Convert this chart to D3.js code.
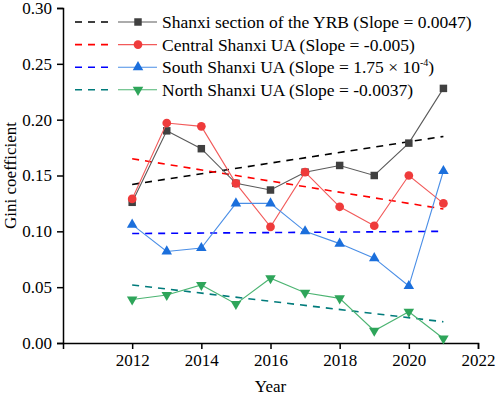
<!DOCTYPE html>
<html>
<head>
<meta charset="utf-8">
<script src="https://cdn.jsdelivr.net/npm/d3@7"></script>
<style>
  body { margin: 0; background: #fff; }
  svg text { font-family: "Liberation Serif", "Times New Roman", serif; fill: #000; }
  .axis path, .axis line { stroke: #000; stroke-width: 1.5; }
  .axis text { font-size: 17px; font-family: "Liberation Serif", serif; }
</style>
</head>
<body>
<svg id="chart" width="498" height="398" font-family="Liberation Serif, serif"></svg>
<script>
const years = [2012, 2013, 2014, 2015, 2016, 2017, 2018, 2019, 2020, 2021]
const shanxiYRB = [0.126, 0.190, 0.174, 0.143, 0.137, 0.153, 0.159, 0.150, 0.179, 0.228]
const centralUA = [0.129, 0.197, 0.194, 0.143, 0.104, 0.153, 0.122, 0.105, 0.150, 0.125]
const southUA = [0.106, 0.082, 0.085, 0.125, 0.125, 0.100, 0.089, 0.076, 0.051, 0.154]
const northUA = [0.039, 0.043, 0.052, 0.035, 0.058, 0.045, 0.040, 0.011, 0.028, 0.004]
// fitted trend lines, start and end (2012, 2021)
const trendYRB = [0.142, 0.185]
const trendCentral = [0.165, 0.120]
const trendSouth = [0.098, 0.100]
const trendNorth = [0.052, 0.019]
const xTicks = [2012, 2014, 2016, 2018, 2020, 2022]
const yTicks = [0, 0.05, 0.10, 0.15, 0.20, 0.25, 0.30]
const legendLabels = [
  "Shanxi section of the YRB (Slope = 0.0047)",
  "Central Shanxi UA (Slope = -0.005)",
  "South Shanxi UA (Slope = 1.75 × 10",
  "North Shanxi UA (Slope = -0.0037)"
]

const series = [
  {name: legendLabels[0], values: shanxiYRB, trend: trendYRB, color: "#5a5a5a", marker: "#404040", trendColor: "#000000", shape: "square"},
  {name: legendLabels[1], values: centralUA, trend: trendCentral, color: "#f25a5a", marker: "#ef3b3b", trendColor: "#ff0000", shape: "circle"},
  {name: legendLabels[2], values: southUA, trend: trendSouth, color: "#4a8ee6", marker: "#1b6fdc", trendColor: "#0000ff", shape: "up"},
  {name: legendLabels[3], values: northUA, trend: trendNorth, color: "#4cb472", marker: "#2ea55a", trendColor: "#007b7b", shape: "down"}
]

const svg = d3.select("#chart")
const m = {left: 63, right: 478, top: 8, bottom: 343}

const x = d3.scaleLinear().domain([2010, 2022]).range([m.left, m.right])
const y = d3.scaleLinear().domain([0, 0.30]).range([m.bottom, m.top])

// axes
svg.append("g").attr("class", "axis")
  .attr("transform", `translate(0,${m.bottom})`)
  .call(d3.axisBottom(x).tickValues(xTicks).tickFormat(d3.format("d")).tickSizeOuter(0).tickSize(6).tickPadding(5))
  .attr("font-family", null)
svg.append("g").attr("class", "axis")
  .attr("transform", `translate(${m.left},0)`)
  .call(d3.axisLeft(y).tickValues(yTicks).tickFormat(d3.format(".2f")).tickSizeOuter(0).tickSize(6).tickPadding(5))
  .attr("font-family", null)

const shapes = {
  square: d3.symbol().type(d3.symbolSquare).size(56),
  circle: d3.symbol().type(d3.symbolCircle).size(60),
  up: d3.symbol().type(d3.symbolTriangle).size(48),
  down: d3.symbol().type(d3.symbolTriangle).size(48)
}

const line = d3.line().x((d, i) => x(years[i])).y(d => y(d))

series.forEach(s => {
  // trend line
  svg.append("line")
    .attr("x1", x(years[0])).attr("x2", x(years[years.length - 1]))
    .attr("y1", y(s.trend[0])).attr("y2", y(s.trend[1]))
    .attr("stroke", s.trendColor).attr("stroke-width", 1.6)
    .attr("stroke-dasharray", "7,6")
})

series.forEach(s => {
  svg.append("path")
    .datum(s.values)
    .attr("d", line)
    .attr("fill", "none")
    .attr("stroke", s.color)
    .attr("stroke-width", 1.1)
  svg.selectAll(null)
    .data(s.values)
    .join("path")
    .attr("d", shapes[s.shape])
    .attr("transform", (d, i) => `translate(${x(years[i])},${y(d)})${s.shape === "down" ? " rotate(180)" : ""}`)
    .attr("fill", s.marker)
})

// legend
const legend = svg.append("g").attr("transform", "translate(75,22)")
const rows = legend.selectAll("g").data(series).join("g")
  .attr("transform", (d, i) => `translate(0,${i * 22.6})`)
rows.append("line").attr("x1", 0).attr("x2", 33)
  .attr("stroke", d => d.trendColor).attr("stroke-width", 1.6).attr("stroke-dasharray", "7,6")
rows.append("line").attr("x1", 43).attr("x2", 82)
  .attr("stroke", d => d.color).attr("stroke-width", 1.1)
rows.append("path")
  .attr("d", d => shapes[d.shape](d))
  .attr("transform", d => `translate(63,0)${d.shape === "down" ? " rotate(180)" : ""}`)
  .attr("fill", d => d.marker)
const labels = rows.append("text").attr("x", 87).attr("y", 6).attr("font-size", 17.5)
  .text(d => d.name)
// superscript and closing parenthesis for the South Shanxi entry
labels.filter((d, i) => i === 2).each(function() {
  const t = d3.select(this)
  t.append("tspan").attr("dy", -7).attr("font-size", 10).text("-4")
  t.append("tspan").attr("dy", 7).text(")")
})

// axis titles
svg.append("text")
  .attr("transform", `translate(16,${(m.top + m.bottom) / 2}) rotate(-90)`)
  .attr("text-anchor", "middle").attr("font-size", 17)
  .text("Gini coefficient")
svg.append("text")
  .attr("x", (m.left + m.right) / 2).attr("y", 392)
  .attr("text-anchor", "middle").attr("font-size", 17)
  .text("Year")
</script>
</body>
</html>
